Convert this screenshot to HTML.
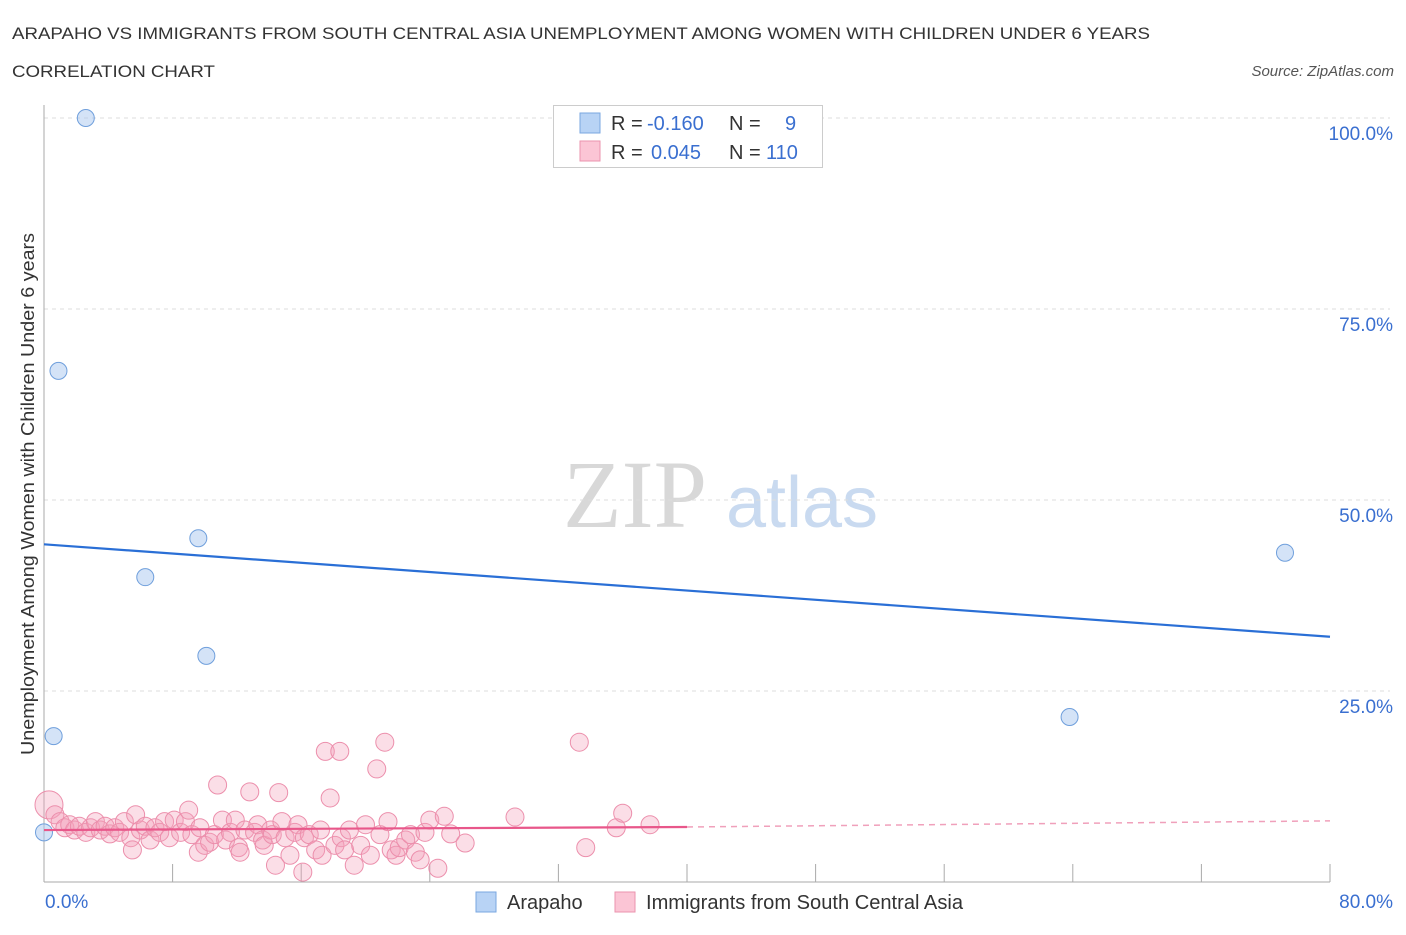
<!DOCTYPE html>
<html><head><meta charset="utf-8"><style>
body{margin:0;background:#fff;font-family:"Liberation Sans",sans-serif;}
svg text{font-family:"Liberation Sans",sans-serif;}
</style></head><body>
<svg id="chart" width="1406" height="930" xmlns="http://www.w3.org/2000/svg">
<text x="12" y="39" font-size="17" fill="#333" textLength="1138" lengthAdjust="spacingAndGlyphs">ARAPAHO VS IMMIGRANTS FROM SOUTH CENTRAL ASIA UNEMPLOYMENT AMONG WOMEN WITH CHILDREN UNDER 6 YEARS</text>
<text x="12" y="77" font-size="17" fill="#333" textLength="203" lengthAdjust="spacingAndGlyphs">CORRELATION CHART</text>
<text x="1394" y="76" font-size="15" fill="#555" font-style="italic" text-anchor="end">Source: ZipAtlas.com</text>
<g>
<text x="635" y="527" font-size="96" fill="#d8d8d8" text-anchor="middle" style="font-family:'Liberation Serif',serif">ZIP</text>
<text x="802" y="527" font-size="72" fill="#c9daf0" text-anchor="middle">atlas</text>
</g>
<g id="grid"></g>
<g id="axes"></g>
<g id="series"></g>
<text transform="translate(34,494) rotate(-90)" font-size="18" fill="#333" text-anchor="middle" textLength="522" lengthAdjust="spacingAndGlyphs">Unemployment Among Women with Children Under 6 years</text>
<g>
<rect x="553.5" y="105.5" width="269" height="62" fill="#fff" stroke="#ccc"/>
<rect x="580" y="113" width="20" height="20" fill="#b8d3f5" stroke="#7aa7e0"/>
<rect x="580" y="141" width="20" height="20" fill="#fbc5d5" stroke="#eb93ae"/>
<text y="130" font-size="20" fill="#333"><tspan x="611">R =</tspan><tspan x="647" fill="#3a6fd0">-0.160</tspan><tspan x="729">N =</tspan><tspan x="785" fill="#3a6fd0">9</tspan></text>
<text y="159" font-size="20" fill="#333"><tspan x="611">R =</tspan><tspan x="651" fill="#3a6fd0">0.045</tspan><tspan x="729">N =</tspan><tspan x="766" fill="#3a6fd0">110</tspan></text>
</g>
<g>
<rect x="476" y="892" width="20" height="20" fill="#b8d3f5" stroke="#7aa7e0"/>
<text x="507" y="909" font-size="20" fill="#333">Arapaho</text>
<rect x="615" y="892" width="20" height="20" fill="#fbc5d5" stroke="#eb93ae"/>
<text x="646" y="909" font-size="20" fill="#333" textLength="317" lengthAdjust="spacingAndGlyphs">Immigrants from South Central Asia</text>
</g>
</svg>
<script>
const yTicks=[25,50,75,100];
const yTickLabels=["25.0%","50.0%","75.0%","100.0%"];
const xTicks=[0,8,16,24,32,40,48,56,64,72,80];
const blueX=[2.6,0.9,9.6,6.3,10.1,0.6,0,77.2,63.8];
const blueY=[100,66.9,45.0,39.9,29.6,19.1,6.5,43.1,21.6];
const pinkX=[0.31,0.68,1.0,1.3,1.6,1.9,2.2,2.6,2.9,3.2,3.5,3.8,4.1,4.4,4.7,5.0,5.4,5.5,5.7,6.0,6.3,6.6,6.9,7.2,7.5,7.8,8.1,8.5,8.8,9.0,9.2,9.6,9.7,10.0,10.3,10.6,10.8,11.1,11.3,11.6,11.9,12.1,12.2,12.5,12.8,13.1,13.3,13.6,13.7,14.1,14.2,14.4,14.6,14.8,15.0,15.3,15.6,15.8,16.1,16.2,16.5,16.9,17.2,17.3,17.5,17.8,18.1,18.4,18.5,18.7,19.0,19.3,19.7,20.0,20.3,20.7,20.9,21.2,21.4,21.6,21.9,22.1,22.5,22.8,23.1,23.4,23.7,24.0,24.5,24.9,25.3,26.2,29.3,33.3,33.7,35.6,36.0,37.7];
const pinkY=[10.1,8.8,7.9,7.1,7.5,6.8,7.3,6.5,7.1,7.9,6.8,7.3,6.3,7.1,6.5,7.9,5.8,4.2,8.8,6.8,7.3,5.5,7.1,6.5,7.9,5.8,8.1,6.5,7.9,9.4,6.2,3.9,7.1,4.8,5.2,6.2,12.7,8.1,5.5,6.5,8.1,4.5,3.9,6.8,11.8,6.5,7.5,5.5,4.8,6.8,6.2,2.2,11.7,7.9,5.8,3.5,6.5,7.5,1.3,5.8,6.2,4.2,6.8,3.5,17.1,11.0,4.8,17.1,5.8,4.2,6.8,2.2,4.8,7.5,3.5,14.8,6.2,18.3,7.9,4.2,3.5,4.5,5.5,6.2,3.9,2.9,6.5,8.1,1.8,8.6,6.3,5.1,8.5,18.3,4.5,7.1,9.0,7.5];
const blueTrend=[44.2,32.1];
const pinkTrend=[6.8,7.2,8.0];
const NS="http://www.w3.org/2000/svg";
const sx=v=>44+v/80*1286;
const sy=v=>882-v/100*764;
function mk(tag,attrs,parent){const e=document.createElementNS(NS,tag);for(const k in attrs)e.setAttribute(k,attrs[k]);parent.appendChild(e);return e;}
const grid=document.getElementById('grid'),axes=document.getElementById('axes'),series=document.getElementById('series');
yTicks.forEach((t,i)=>{
 const l=mk('line',{x1:44,x2:1390,y1:sy(t),y2:sy(t),stroke:'#ddd','stroke-dasharray':'4,4'},grid);
 
 
 const tx=mk('text',{x:1393,y:sy(t)+22,'font-size':19,fill:'#3a6fd0','text-anchor':'end'},axes);
 tx.textContent=yTickLabels[i];
 
 
});
const ya=mk('line',{x1:44,x2:44,y1:105,y2:882,stroke:'#aaa'},axes);


const xa=mk('line',{x1:44,x2:1330,y1:882,y2:882,stroke:'#aaa'},axes);


xTicks.forEach(t=>{
 const tk=mk('line',{x1:sx(t),x2:sx(t),y1:864,y2:882,stroke:'#aaa'},axes);
 
 
});
const xl0=mk('text',{x:45,y:908,'font-size':19,fill:'#3a6fd0'},axes);xl0.textContent='0.0%';


const xl1=mk('text',{x:1393,y:908,'font-size':19,fill:'#3a6fd0','text-anchor':'end'},axes);xl1.textContent='80.0%';


pinkX.forEach((x,i)=>{
 const c=mk('circle',{cx:sx(x),cy:sy(pinkY[i]),r:i===0?14:9,fill:'rgba(244,160,185,0.35)',stroke:'#ec8fac','stroke-width':1},series);
 
 
});
blueX.forEach((x,i)=>{
 const c=mk('circle',{cx:sx(x),cy:sy(blueY[i]),r:8.5,fill:'rgba(170,200,240,0.5)',stroke:'#6f9fdc','stroke-width':1},series);
 
 
});
const bl=mk('line',{x1:sx(0),y1:sy(blueTrend[0]),x2:sx(80),y2:sy(blueTrend[1]),stroke:'#2a6fd6','stroke-width':2.2},series);


const pl=mk('line',{x1:sx(0),y1:sy(pinkTrend[0]),x2:sx(40),y2:sy(pinkTrend[1]),stroke:'#e8578a','stroke-width':2.2},series);


const pd=mk('line',{x1:sx(40),y1:sy(pinkTrend[1]),x2:sx(80),y2:sy(pinkTrend[2]),stroke:'#f0a0bb','stroke-width':1.5,'stroke-dasharray':'6,5'},series);


</script>
</body></html>
